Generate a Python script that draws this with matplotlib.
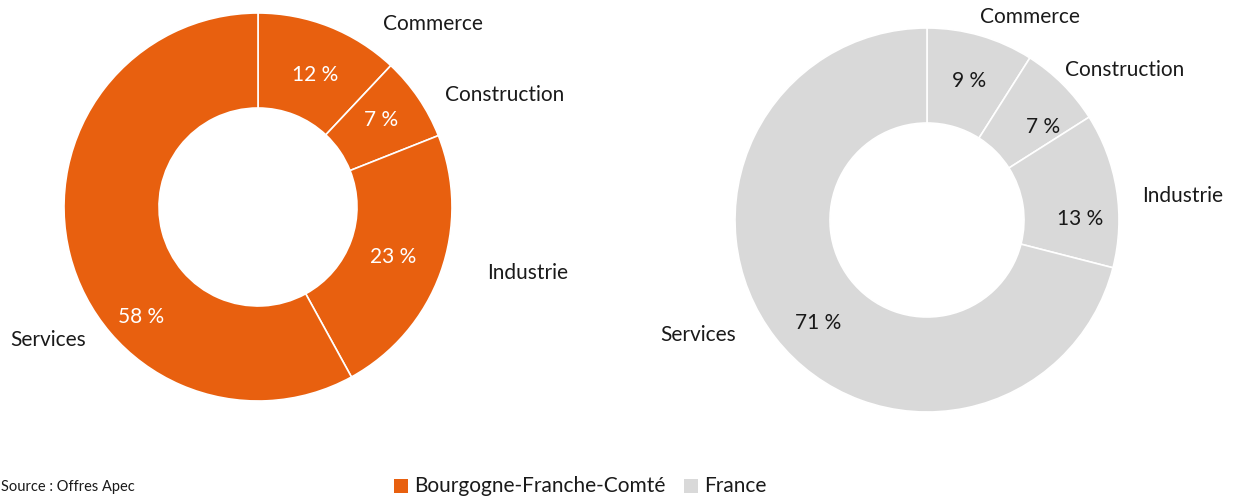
import matplotlib
matplotlib.use("Agg")
import matplotlib.pyplot as plt
from matplotlib.patches import Rectangle

categories = ["Commerce", "Construction", "Industrie", "Services"]
bfc_values = [12, 7, 23, 58]
france_values = [9, 7, 13, 71]
series_names = ["Bourgogne-Franche-Comté", "France"]
source_text = "Source : Offres Apec"

ORANGE = "#E8600F"
GREY = "#D9D9D9"
TXT = "#1a1a1a"

plt.rcParams['font.family'] = ['Lato', 'DejaVu Sans']

W, H = 1234, 499
fig = plt.figure(figsize=(W / 100, H / 100), dpi=100)
ax = fig.add_axes([0, 0, 1, 1])

def Y(py):
    return H - py

FS = 15

# Left donut
ax.pie(bfc_values, colors=[ORANGE] * 4, startangle=90, counterclock=False,
       center=(258, Y(207)), radius=194, frame=True,
       wedgeprops=dict(width=95, edgecolor='white', linewidth=1.2))
# Right donut
ax.pie(france_values, colors=[GREY] * 4, startangle=90, counterclock=False,
       center=(927, Y(220)), radius=192, frame=True,
       wedgeprops=dict(width=95, edgecolor='white', linewidth=1.2))
ax.set_xlim(0, W)
ax.set_ylim(0, H)
ax.set_aspect('equal')
ax.axis('off')

left_cat_pos = [(433, 24), (505, 95), (528, 273), (48, 340)]
left_pct_pos = [(315, 75), (381, 120), (393, 257), (141, 317)]
right_cat_pos = [(1030, 17), (1125, 70), (1183, 196), (698, 335)]
right_pct_pos = [(969, 81), (1043, 127), (1080, 219), (818, 323)]

for c, v, (cx, cy), (px, py) in zip(categories, bfc_values, left_cat_pos, left_pct_pos):
    ax.text(cx, Y(cy), c, ha='center', va='center', fontsize=FS, color=TXT)
    ax.text(px, Y(py), f"{v} %", ha='center', va='center', fontsize=FS, color='white')
for c, v, (cx, cy), (px, py) in zip(categories, france_values, right_cat_pos, right_pct_pos):
    ax.text(cx, Y(cy), c, ha='center', va='center', fontsize=FS, color=TXT)
    ax.text(px, Y(py), f"{v} %", ha='center', va='center', fontsize=FS, color=TXT)

# Source
ax.text(1, Y(487), source_text, ha='left', va='center', fontsize=10.5, color=TXT)

# Legend
ax.add_patch(Rectangle((394, Y(493)), 14, 14, facecolor=ORANGE, edgecolor='none'))
ax.text(414, Y(486), series_names[0], ha='left', va='center', fontsize=15, color=TXT)
ax.add_patch(Rectangle((684, Y(493)), 14, 14, facecolor=GREY, edgecolor='none'))
ax.text(704, Y(486), series_names[1], ha='left', va='center', fontsize=15, color=TXT)

fig.savefig("out.png", dpi=100)
